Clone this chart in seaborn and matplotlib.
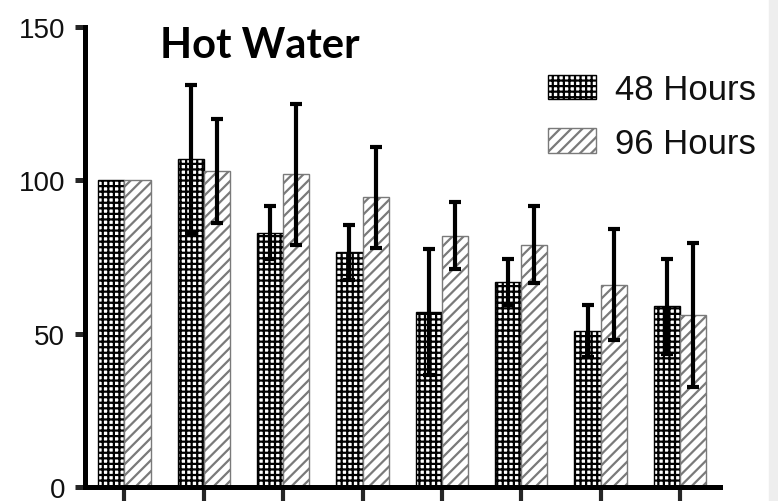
import matplotlib
matplotlib.use("Agg")
import matplotlib.pyplot as plt
import numpy as np
import pandas as pd
import seaborn as sns

# data
grupos = ["1", "2", "3", "4", "5", "6", "7", "8"]
horas_48 = [100, 107, 83, 76.5, 57, 67, 51, 59]
err_48 = [0, 24, 8.5, 9, 20.5, 7.5, 8.5, 15.5]
horas_96 = [100, 103, 102, 94.5, 82, 79, 66, 56]
err_96 = [0, 17, 23, 16.5, 11, 12.5, 18, 23.5]
series = ["48 Hours", "96 Hours"]

df = pd.DataFrame({
    "grupo": grupos * 2,
    "valor": horas_48 + horas_96,
    "serie": [series[0]] * len(grupos) + [series[1]] * len(grupos),
})

sns.set_style("white")
plt.rcParams["font.family"] = ["Liberation Sans", "DejaVu Sans"]
plt.rcParams["hatch.linewidth"] = 1.6
plt.rcParams["text.color"] = "black"

fig = plt.figure(figsize=(7.78, 5.02), dpi=100)
ax = fig.add_axes([0.109, 0.028, 0.816, 0.916])

sns.barplot(data=df, x="grupo", y="valor", hue="serie", errorbar=None,
            width=0.66, gap=0, palette=["white", "white"], ax=ax)

patrones = ["+++", "///"]
colores = ["black", "#7a7a7a"]
errores = [err_48, err_96]
valores = [horas_48, horas_96]
barras = list(ax.containers)[:2]
for k, cont in enumerate(barras):
    xs = []
    for p in cont:
        p.set_hatch(patrones[k])
        p.set_edgecolor(colores[k])
        p.set_linewidth(1.0)
        xs.append(p.get_x() + p.get_width() / 2)
    yerr = np.array(errores[k])
    mask = yerr > 0
    ax.errorbar(np.array(xs)[mask], np.array(valores[k])[mask], yerr=yerr[mask],
                fmt="none", ecolor="black", elinewidth=3, capsize=4.5, capthick=3, zorder=5)

ax.set_xlim(-0.5, 7.5)
ax.set_ylim(0, 150)
ax.set_yticks([0, 50, 100, 150])
ax.set_xlabel("")
ax.set_ylabel("")
ax.set_xticklabels([])
sns.despine(ax=ax)
for s in ["left", "bottom"]:
    ax.spines[s].set_linewidth(3.6)
    ax.spines[s].set_color("black")
ax.tick_params(axis="y", direction="out", length=7, width=3.6, labelsize=20,
               pad=7, left=True, labelcolor="#111111")
ax.tick_params(axis="x", direction="out", length=10, width=3, bottom=True)

ax.text(0.118, 0.935, "Hot Water", transform=ax.transAxes, fontsize=30,
        fontweight="bold", family=["Lato", "DejaVu Sans"], va="baseline",
        color="black")

leg = ax.legend(barras, series, loc="upper left", bbox_to_anchor=(0.729, 0.9),
                borderaxespad=0, borderpad=0, frameon=False, fontsize=25,
                handlelength=1.4, handleheight=0.72, handletextpad=0.55,
                labelspacing=0.6)
for t in leg.get_texts():
    t.set_color("#111111")

fig.patches.append(plt.Rectangle((0.988, 0), 0.012, 1, transform=fig.transFigure,
                                 color="#eeeeee", zorder=-1))

fig.savefig("out.png", dpi=100)
